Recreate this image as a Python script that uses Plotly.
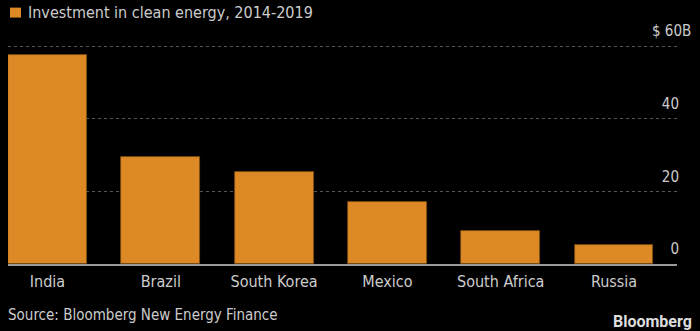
import plotly.graph_objects as go

countries = ["India", "Brazil", "South Korea", "Mexico", "South Africa", "Russia"]
investment = [57.7, 29.4, 25.3, 17.2, 9.2, 5.3]
y_ticks = [0, 20, 40, 60]
y_ticktext = ["0", "20", "40", ""]
title_text = "Investment in clean energy, 2014-2019"
source_text = "Source: Bloomberg New Energy Finance"

W, H = 700, 331
L, R = 8, 677
YMAX = 60.4
B = 264.5
PPU = (264.5 - 46) / 60.0
T = B - YMAX * PPU
FONT = "DejaVu Sans Condensed, DejaVu Sans, sans-serif"
TXT = "#cccccc"
BAR = "#dd8a26"


def px(x):
    return (x - L) / (R - L)


def py(y):
    return (B - y) / (B - T)


fig = go.Figure(go.Bar(
    x=list(range(len(countries))), y=investment,
    width=0.697,
    marker=dict(color=BAR, line=dict(color="#7a4a12", width=0.8)),
    showlegend=False,
))

fig.update_layout(
    width=W, height=H,
    margin=dict(l=L, r=W - R, t=T, b=H - B, pad=0),
    paper_bgcolor="#000000", plot_bgcolor="#000000",
    font=dict(family=FONT, color=TXT, size=14),
    bargap=0,
    xaxis=dict(
        range=[-0.3485, 5.556],
        tickmode="array", tickvals=list(range(len(countries))), ticktext=countries,
        showgrid=False, zeroline=False,
        showline=True, linecolor="#9a9a9a", linewidth=2,
        ticks="", ticklabelstandoff=2,
        tickfont=dict(size=16, color=TXT, family=FONT),
        fixedrange=True,
    ),
    yaxis=dict(
        range=[0, YMAX], side="right",
        tickmode="array", tickvals=y_ticks, ticktext=y_ticktext,
        ticklabelposition="inside", ticklabelshift=-15, ticklabelstandoff=-5,
        showgrid=True, gridcolor="#555555", griddash="dot", gridwidth=1,
        zeroline=False, showline=False, ticks="",
        tickfont=dict(size=15, color=TXT, family=FONT),
        fixedrange=True,
    ),
    shapes=[
        dict(type="rect", xref="paper", yref="paper",
             x0=px(10), x1=px(21), y0=py(17), y1=py(7),
             fillcolor=BAR, line=dict(width=0)),
    ],
    annotations=[
        dict(text=title_text, xref="paper", yref="paper", x=px(26), y=py(12),
             xanchor="left", yanchor="middle", showarrow=False,
             font=dict(size=16, color=TXT, family=FONT)),
        dict(text="$ 60B", xref="paper", yref="y", x=px(650), y=60, yshift=15,
             xanchor="left", yanchor="middle", showarrow=False,
             font=dict(size=15, color=TXT, family=FONT)),
        dict(text=source_text, xref="paper", yref="paper", x=px(6), y=py(316),
             xanchor="left", yanchor="middle", showarrow=False,
             font=dict(size=15, color=TXT, family=FONT)),
        dict(text="<b>Bloomberg</b>", xref="paper", yref="paper", x=px(694), y=py(322),
             xanchor="right", yanchor="middle", showarrow=False,
             font=dict(size=16, color="#dddddd", family="Liberation Sans Narrow, Roboto, Arial, sans-serif")),
    ],
)

fig.write_html("out.html")
